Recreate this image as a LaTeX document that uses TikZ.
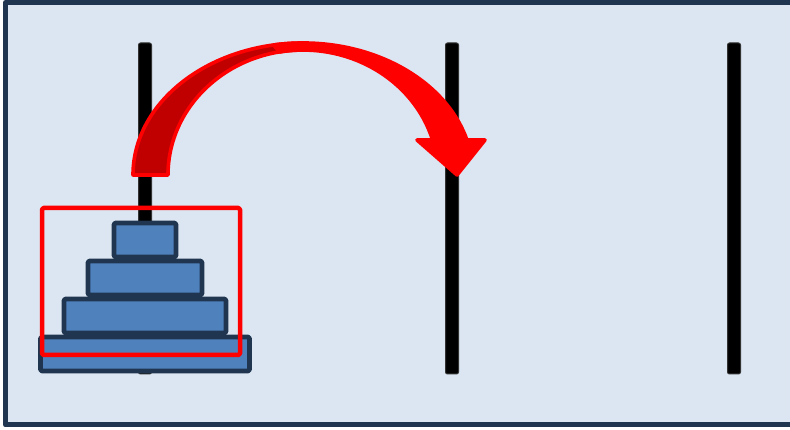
\documentclass[tikz,border=0pt]{standalone}
\definecolor{panelbg}{HTML}{DCE6F2}
\definecolor{paneldk}{HTML}{1F3550}
\definecolor{discfill}{HTML}{4F81BD}
\definecolor{arrowdk}{HTML}{C00000}
\begin{document}
\begin{tikzpicture}[x=1pt,y=1pt,line join=round,
  pegbar/.style={fill=black,draw=black!80,line width=1,rounded corners=2},
  discbox/.style={fill=discfill,draw=paneldk,line width=4.8,rounded corners=1.5},
  selbox/.style={draw=red,line width=4.5,rounded corners=1.5},
  arrowpart/.style={draw=red,line width=3.6}]
\useasboundingbox (0,0) rectangle (790,430);
% ---------- panel ----------
\fill[white] (0,0) rectangle (790,430);
\draw[fill=panelbg,draw=paneldk,line width=5] (5.5,5) rectangle (800,427.5);
% ---------- pegs ----------
\draw[pegbar] (138.5,56) rectangle (151.5,387);
\draw[pegbar] (445.5,56) rectangle (458.5,387);
\draw[pegbar] (727.5,56) rectangle (740.5,387);
% ---------- discs (bottom to top) ----------
\foreach \w [count=\i] in {104.5,81,57,31}
  \draw[discbox] (145-\w,{59+(\i-1)*38}) rectangle (145+\w,{93+(\i-1)*38});
% selection frame round the stack
\draw[selbox] (42,75) rectangle (240,222);
% ---------- curved arrow ----------
% rear (dark) half, tail end on the first peg
\draw[arrowpart,fill=arrowdk] (133,255)
  arc[start angle=180,end angle=90,x radius=170,y radius=132]
  -- (303,380)
  arc[start angle=90,end angle=180,x radius=135,y radius=125] -- cycle;
% front (light) half with the head over the second peg
\draw[arrowpart,fill=red] (273.5,385)
  arc[start angle=100,end angle=15.4,x radius=170,y radius=132]
  -- (485,290) -- (457,255) -- (417,290) -- (432.6,290)
  arc[start angle=16.3,end angle=100,x radius=135,y radius=125] -- cycle;
\end{tikzpicture}
\end{document}
